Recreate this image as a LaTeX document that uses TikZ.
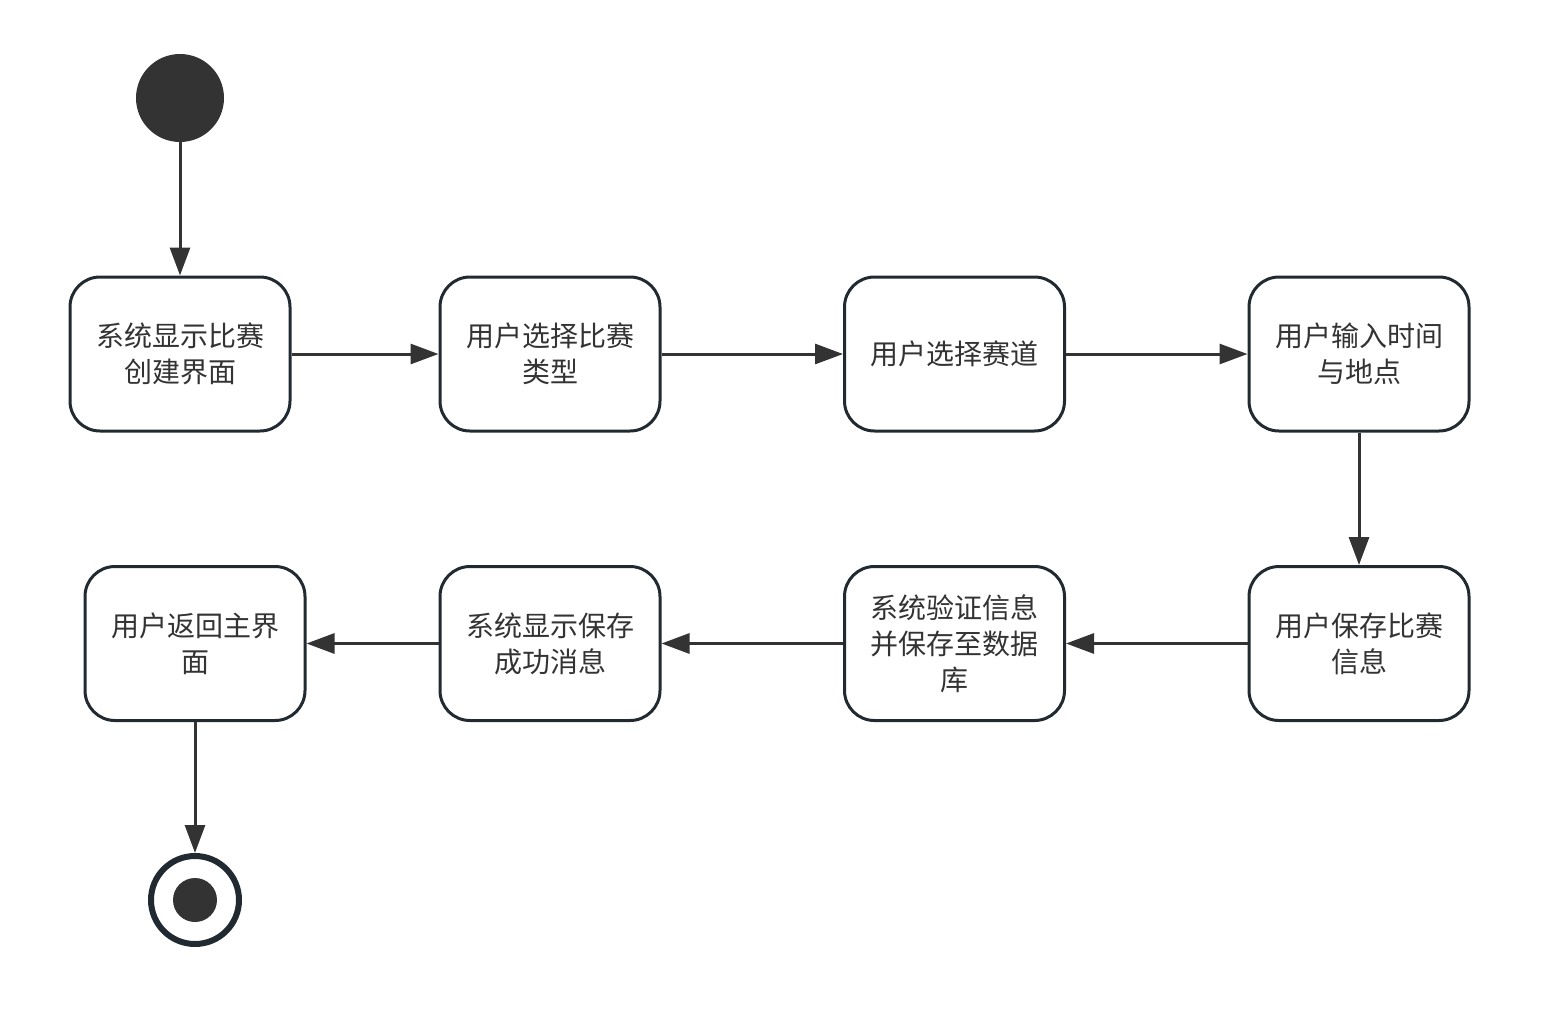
\documentclass[tikz,border=0pt]{standalone}
\usepackage{fontspec}
\newfontfamily\cjk{Noto Sans CJK SC}
\usetikzlibrary{arrows.meta}
\definecolor{ink}{HTML}{333333}
\definecolor{edge}{HTML}{222A31}
\begin{document}
\begin{tikzpicture}[x=1pt,y=-1pt,
  box/.style={draw=edge,line width=3pt,rounded corners=30pt,fill=white,
    minimum width=220pt,minimum height=154pt,inner sep=0pt,align=center,
    text=ink,font=\cjk\fontsize{28}{36}\selectfont},
  flow/.style={draw=ink,line width=3pt,-{Triangle[length=28pt,width=20pt]}}]
\useasboundingbox (0,0) rectangle (1561,1010);
\node[circle,fill=ink,minimum size=88pt,inner sep=0pt] (start) at (180,98) {};
\node[box] (b1) at (180,354) {系统显示比赛\\创建界面};
\node[box] (b2) at (550,354) {用户选择比赛\\类型};
\node[box] (b3) at (954.5,354) {用户选择赛道};
\node[box] (b4) at (1359,354) {用户输入时间\\与地点};
\node[box] (b5) at (1359,643.5) {用户保存比赛\\信息};
\node[box] (b6) at (954.5,643.5) {系统验证信息\\并保存至数据\\库};
\node[box] (b7) at (550,643.5) {系统显示保存\\成功消息};
\node[box] (b8) at (195,643.5) {用户返回主界\\面};
\node[circle,draw=edge,line width=6pt,minimum size=88pt,inner sep=0pt] (end) at (195,900) {};
\node[circle,fill=ink,minimum size=44pt,inner sep=0pt] at (end) {};
\draw[flow] (start) -- (b1);
\draw[flow] (b1) -- (b2);
\draw[flow] (b2) -- (b3);
\draw[flow] (b3) -- (b4);
\draw[flow] (b4) -- (b5);
\draw[flow] (b5) -- (b6);
\draw[flow] (b6) -- (b7);
\draw[flow] (b7) -- (b8);
\draw[flow] (b8) -- (end);
\end{tikzpicture}
\end{document}
